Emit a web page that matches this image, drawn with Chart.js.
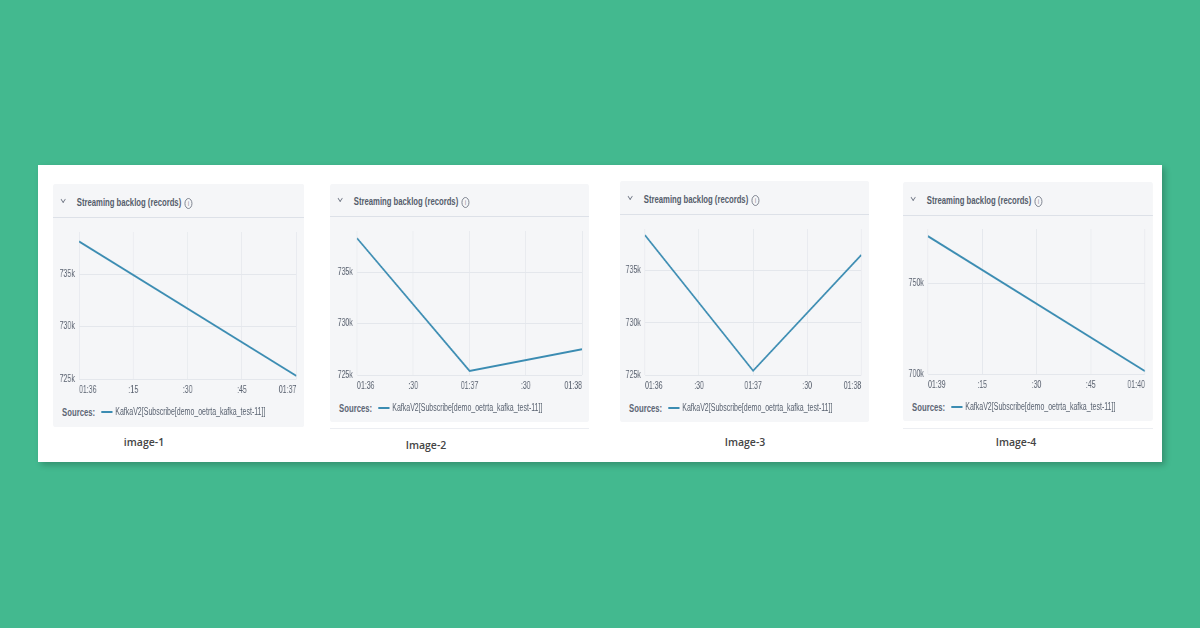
<!DOCTYPE html>
<html>
<head>
<meta charset="utf-8">
<title>Streaming backlog (records)</title>
<script src="https://cdn.jsdelivr.net/npm/chart.js@4.4.1/dist/chart.umd.min.js"></script>
<style>
  html, body { margin: 0; padding: 0; }
  body { width: 1200px; height: 628px; background: #43b98f; position: relative; overflow: hidden;
         font-family: "Liberation Sans", Arial, sans-serif; }
  #band { position: absolute; left: 38px; top: 165px; width: 1124px; height: 297px; background: #fff;
          box-shadow: 3px 3px 6px rgba(0, 0, 0, 0.22); }
  .card { position: absolute; background: #f5f6f8; border-radius: 3px; transform-origin: 0 0; }
  .card canvas { position: absolute; left: 0; top: 0; }
  .head { position: absolute; left: 0; top: 0; right: 0; border-bottom: 1px solid #dde1e8; }
  .chev { position: absolute; left: 12px; width: 4px; height: 4px; border-right: 1px solid #6b7280;
          border-bottom: 1px solid #6b7280; transform: rotate(45deg); }
  .title { position: absolute; left: 34px; font-size: 11px; line-height: 14px; font-weight: bold; color: #555e6c; white-space: nowrap; }
  .info { display: inline-block; width: 9px; height: 9px; border: 1px solid #6b7280; border-radius: 50%;
          font-size: 7px; line-height: 9px; text-align: center; margin-left: 5px; vertical-align: 0px;
          font-weight: normal; color: #6b7280; }
  .legend { position: absolute; white-space: nowrap; color: #596270; height: 14px; line-height: 14px; }
  .legend .src { position: absolute; left: 13px; font-size: 11px; font-weight: bold; color: #5d6675; }
  .legend .swatch { position: absolute; left: 69px; top: 6px; width: 16px; height: 2px; }
  .legend .name { position: absolute; left: 89px; font-size: 10px; }
  .caption { position: absolute; font-family: "Open Sans", sans-serif; font-size: 10.5px; font-weight: 600;
             color: #444; transform: translateX(-50%); white-space: nowrap; }
  .edge { position: absolute; height: 1px; background: #eceef2; }
</style>
</head>
<body>
<div id="band"></div>
<script>
// the screenshot is squeezed sideways, so every card is drawn wide and scaled back
const SQUEEZE = 0.7;
const LINE_COLOR = '#3b8cb2';

const chartTitle = 'Streaming backlog (records)';
const sourceName = 'KafkaV2[Subscribe[demo_oetrta_kafka_test-11]]';
const captions = ['image-1', 'Image-2', 'Image-3', 'Image-4'];

// image-1
const xLabels1 = ['01:36', ':15', ':30', ':45', '01:37'];
const xTicks1 = [0, 15, 30, 45, 60];
const times1 = [0, 60];
const backlog1 = [738100, 725300];
const yTicks1 = [725000, 730000, 735000];
const yRange1 = [725000, 739000];

// Image-2
const xLabels2 = ['01:36', ':30', '01:37', ':30', '01:38'];
const xTicks2 = [0, 30, 60, 90, 120];
const times2 = [0, 60, 120];
const backlog2 = [738300, 725400, 727500];
const yTicks2 = [725000, 730000, 735000];
const yRange2 = [725000, 739000];

// Image-3
const xLabels3 = ['01:36', ':30', '01:37', ':30', '01:38'];
const xTicks3 = [0, 30, 60, 90, 120];
const times3 = [0, 60, 120];
const backlog3 = [738400, 725400, 736500];
const yTicks3 = [725000, 730000, 735000];
const yRange3 = [725000, 739000];

// Image-4
const xLabels4 = ['01:39', ':15', ':30', ':45', '01:40'];
const xTicks4 = [0, 15, 30, 45, 60];
const times4 = [0, 60];
const backlog4 = [776000, 701600];
const yTicks4 = [700000, 750000];
const yRange4 = [700000, 780000];

const panelData = [
  { labels: xLabels1, xticks: xTicks1, times: times1, values: backlog1, yticks: yTicks1, yrange: yRange1 },
  { labels: xLabels2, xticks: xTicks2, times: times2, values: backlog2, yticks: yTicks2, yrange: yRange2 },
  { labels: xLabels3, xticks: xTicks3, times: times3, values: backlog3, yticks: yTicks3, yrange: yRange3 },
  { labels: xLabels4, xticks: xTicks4, times: times4, values: backlog4, yticks: yTicks4, yrange: yRange4 }
];

// page layout of each screenshot (page pixels)
const panelLayout = [
  { card: [53, 184, 251, 243], headLine: 218, plot: [79, 232, 296, 379], caption: [144, 443], edge: null },
  { card: [330, 184, 259, 238], headLine: 217, plot: [357, 231, 582, 375], caption: [426, 446], edge: 428 },
  { card: [620, 181, 249, 241], headLine: 215, plot: [645, 229, 861, 375], caption: [745, 443], edge: null },
  { card: [903, 182, 250, 239], headLine: 216, plot: [928, 229, 1145, 374], caption: [1016, 443], edge: 428 }
];

Chart.defaults.font.family = '"Liberation Sans", Arial, sans-serif';
Chart.defaults.color = '#5a6270';

function fmtK(v) {
  return (v / 1000) + 'k';
}

function buildPanel(layout, d, caption) {
  const [cx, cy, cw, ch] = layout.card;
  const [pl, pt, pr, pb] = layout.plot;
  const wideW = cw / SQUEEZE;

  const card = document.createElement('div');
  card.className = 'card';
  card.style.left = cx + 'px';
  card.style.top = cy + 'px';
  card.style.width = wideW + 'px';
  card.style.height = ch + 'px';
  card.style.transform = `scaleX(${SQUEEZE})`;

  const headH = layout.headLine - cy - 1;
  const midY = Math.round(headH / 2);
  card.innerHTML = `
    <div class="head" style="height:${headH}px">
      <span class="chev" style="top:${midY - 4}px"></span>
      <span class="title" style="top:${midY - 6}px">${chartTitle}<span class="info">i</span></span>
    </div>
    <div class="legend" style="left:0;top:${pb + 33 - cy - 7}px">
      <span class="src">Sources:</span>
      <span class="swatch" style="background:${LINE_COLOR}"></span>
      <span class="name">${sourceName}</span>
    </div>`;

  const canvas = document.createElement('canvas');
  const canvasH = pb + 22 - cy;
  canvas.width = Math.round(wideW);
  canvas.height = canvasH;
  canvas.style.width = Math.round(wideW) + 'px';
  canvas.style.height = canvasH + 'px';
  card.appendChild(canvas);
  document.body.appendChild(card);

  new Chart(canvas.getContext('2d'), {
    type: 'line',
    data: {
      datasets: [{
        label: sourceName,
        data: d.times.map((t, i) => ({ x: t, y: d.values[i] })),
        borderColor: LINE_COLOR,
        borderWidth: 2,
        pointRadius: 0,
        tension: 0
      }]
    },
    options: {
      responsive: false,
      animation: false,
      devicePixelRatio: 1,
      layout: {
        padding: { top: pt - cy, right: (cx + cw - pr) / SQUEEZE, left: 0, bottom: 0 }
      },
      plugins: {
        legend: { display: false },
        tooltip: { enabled: false }
      },
      scales: {
        x: {
          type: 'linear',
          min: d.xticks[0],
          max: d.xticks[d.xticks.length - 1],
          afterBuildTicks: axis => { axis.ticks = d.xticks.map(v => ({ value: v })); },
          afterFit: axis => { axis.height = 22; },
          border: { display: false },
          grid: { color: '#e4e7ec', drawTicks: false },
          ticks: {
            align: 'inner',
            maxRotation: 0,
            padding: 5,
            font: { size: 10 },
            callback: (v, i) => d.labels[i]
          }
        },
        y: {
          min: d.yrange[0],
          max: d.yrange[1],
          afterBuildTicks: axis => { axis.ticks = d.yticks.map(v => ({ value: v })); },
          afterFit: axis => { axis.width = (pl - cx) / SQUEEZE; },
          border: { display: false },
          grid: { color: '#e4e7ec', drawTicks: false },
          ticks: {
            padding: 6,
            font: { size: 10 },
            callback: v => fmtK(v)
          }
        }
      }
    }
  });

  const cap = document.createElement('div');
  cap.className = 'caption';
  cap.textContent = caption;
  cap.style.left = layout.caption[0] + 'px';
  cap.style.top = (layout.caption[1] - 8) + 'px';
  document.body.appendChild(cap);

  if (layout.edge) {
    const edge = document.createElement('div');
    edge.className = 'edge';
    edge.style.left = cx + 'px';
    edge.style.top = layout.edge + 'px';
    edge.style.width = cw + 'px';
    document.body.appendChild(edge);
  }
}

panelLayout.forEach((layout, i) => buildPanel(layout, panelData[i], captions[i]));
</script>
</body>
</html>
